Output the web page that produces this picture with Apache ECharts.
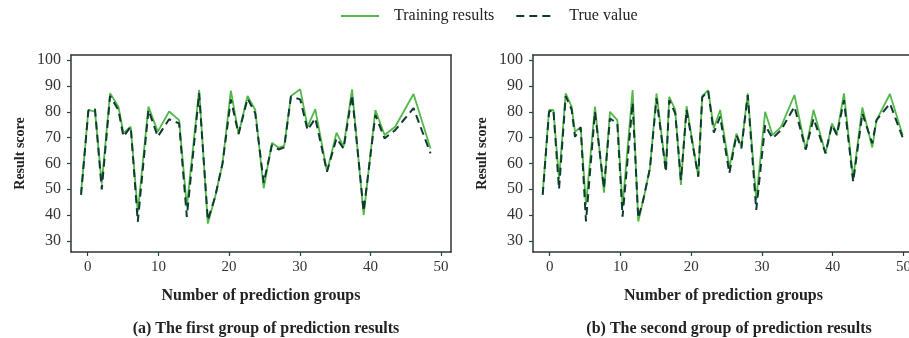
<!DOCTYPE html>
<html><head><meta charset="utf-8">
<script src="https://cdn.jsdelivr.net/npm/echarts@6/dist/echarts.min.js"></script>
<style>html,body{margin:0;padding:0;background:#fff}#c{width:909px;height:338px}</style>
</head><body><div id="c"></div>
<script>
const xTicks = [0, 10, 20, 30, 40, 50];
const yTicks = [30, 40, 50, 60, 70, 80, 90, 100];
const seriesNames = ['Training results', 'True value'];
const captions = ['(a) The first group of prediction results', '(b) The second group of prediction results'];

const leftX = [-0.95,0.09,1.03,1.98,3.16,4.34,5.05,6.08,7.08,8.59,9.91,11.51,12.93,14.02,15.76,16.99,18.03,19.07,20.25,21.34,22.61,23.7,24.9,26.06,27.0,27.8,28.75,30.07,31.1,32.2,33.85,35.2,36.2,37.4,39.04,40.7,42.0,43.5,46.1,48.5];
const leftTrain = [48.5,80.7,80.1,52.2,87.2,82.0,71.7,74.2,41.2,82.0,72.3,80.1,76.8,43.2,88.5,36.7,47.1,60.0,88.2,71.4,86.1,80.7,50.4,68.0,66.1,66.8,86.1,88.7,74.2,81.0,56.8,71.9,66.5,88.7,40.0,80.7,71.0,74.2,86.9,65.8];
const leftTrue = [47.8,80.5,81.0,49.9,86.1,80.7,70.4,74.2,37.4,80.7,70.4,77.1,75.5,39.3,87.2,38.0,47.1,60.0,84.8,71.4,85.2,79.4,52.5,67.1,65.4,66.2,85.9,84.8,72.9,77.5,56.8,69.7,65.8,86.5,41.5,78.8,69.7,72.9,81.4,63.9];

const rightX = [-0.99,-0.09,0.52,1.32,2.26,3.1,3.58,4.38,5.13,6.4,7.67,8.52,9.56,10.3,11.72,12.52,13.23,14.17,15.1,16.43,16.9,17.75,18.55,19.35,21.0,21.56,22.4,23.2,24.1,25.4,26.4,27.1,28.0,29.2,30.46,31.5,32.7,34.6,36.2,37.3,39.0,39.9,40.6,41.6,42.9,44.2,45.6,46.2,48.1,49.9];
const rightTrain = [48.4,80.7,80.7,54.0,87.1,82.0,72.3,74.0,44.0,82.0,48.7,80.0,76.8,43.3,88.4,37.5,45.9,58.1,87.1,57.4,85.8,80.7,51.7,82.2,54.9,86.1,88.4,73.6,80.7,58.5,71.6,66.5,87.1,45.9,80.0,71.0,74.2,86.5,65.4,80.7,63.9,75.5,71.6,87.1,54.0,81.7,66.2,76.8,86.9,70.9];
const rightTrue = [47.8,80.0,80.9,50.0,86.1,80.9,70.3,74.0,37.5,80.0,50.4,77.4,75.5,39.4,83.5,38.8,45.9,58.1,85.2,56.8,84.5,79.4,53.6,80.7,54.9,85.6,88.1,71.9,78.1,56.2,71.0,65.8,86.5,42.0,74.9,69.7,72.9,82.0,65.4,77.4,63.9,74.9,71.0,84.5,52.9,79.4,67.8,76.8,83.2,70.0];

const zip = (xs, ys) => xs.map((x, i) => [x, ys[i]]);
const FONT = '"Liberation Serif", "Times New Roman", serif';
const GREEN = '#52b847';
const DARK = '#0e3a30';
const TEXT = '#222';

function xAxis(idx, min, max) {
  return {
    type: 'value', gridIndex: idx, min: min, max: max,
    name: 'Number of prediction groups', nameLocation: 'middle', nameGap: 36,
    nameTextStyle: { fontFamily: FONT, fontWeight: 'bold', fontSize: 16, color: TEXT },
    axisLine: { show: true, onZero: false, lineStyle: { color: '#333', width: 1.5 } },
    axisTick: { show: true, length: 4, inside: false, customValues: xTicks, lineStyle: { color: '#1d4a45', width: 1.2 } },
    axisLabel: { show: true, margin: 8, customValues: xTicks, fontFamily: FONT, fontSize: 15, color: '#333' },
    splitLine: { show: false }
  };
}
function xAxisTop(idx, min, max) {
  return { type: 'value', gridIndex: idx, position: 'top', min: min, max: max,
    axisLine: { show: true, onZero: false, lineStyle: { color: '#333', width: 1.5 } },
    axisTick: { show: false }, axisLabel: { show: false }, splitLine: { show: false } };
}
function yAxis(idx) {
  return {
    type: 'value', gridIndex: idx, min: 25.7, max: 102,
    name: 'Result score', nameLocation: 'middle', nameGap: 44,
    nameTextStyle: { fontFamily: FONT, fontWeight: 'bold', fontSize: 14, color: TEXT },
    axisLine: { show: true, onZero: false, lineStyle: { color: '#333', width: 1.5 } },
    axisTick: { show: true, length: 4, customValues: yTicks, lineStyle: { color: '#1d4a45', width: 1.2 } },
    axisLabel: { show: true, margin: 10, customValues: yTicks, fontFamily: FONT, fontSize: 16, color: '#333' },
    splitLine: { show: false }
  };
}
function yAxisRight(idx) {
  return { type: 'value', gridIndex: idx, position: 'right', min: 25.7, max: 102,
    axisLine: { show: true, onZero: false, lineStyle: { color: '#333', width: 1.5 } },
    axisTick: { show: false }, axisLabel: { show: false }, splitLine: { show: false } };
}
function lines(xIdx, yIdx, xs, train, truth) {
  return [
    { name: seriesNames[0], type: 'line', xAxisIndex: xIdx, yAxisIndex: yIdx, data: zip(xs, train),
      symbol: 'none', lineStyle: { color: GREEN, width: 1.8 }, itemStyle: { color: GREEN }, z: 2 },
    { name: seriesNames[1], type: 'line', xAxisIndex: xIdx, yAxisIndex: yIdx, data: zip(xs, truth),
      symbol: 'none', lineStyle: { color: DARK, width: 2, type: [8, 5] }, itemStyle: { color: DARK }, z: 3 }
  ];
}

const chart = echarts.init(document.getElementById('c'), null, { renderer: 'canvas' });
chart.setOption({
  animation: false,
  backgroundColor: '#fff',
  legend: {
    top: 3, left: 335, itemWidth: 38, itemHeight: 14, itemGap: 21,
    itemStyle: { opacity: 0 },
    textStyle: { fontFamily: FONT, fontSize: 16, color: TEXT, padding: [0, 0, 0, 10] },
    data: seriesNames
  },
  title: [
    { text: captions[0], left: 261, top: 316, textAlign: 'center', textStyle: { fontFamily: FONT, fontWeight: 'bold', fontSize: 16, color: TEXT } },
    { text: captions[1], left: 724, top: 316, textAlign: 'center', textStyle: { fontFamily: FONT, fontWeight: 'bold', fontSize: 16, color: TEXT } }
  ],
  grid: [
    { left: 71, top: 55, width: 380, height: 197, outerBoundsMode: 'none' },
    { left: 533, top: 55, width: 381, height: 197, outerBoundsMode: 'none' }
  ],
  xAxis: [xAxis(0, -2.37, 51.4), xAxis(1, -2.36, 51.5), xAxisTop(0, -2.37, 51.4), xAxisTop(1, -2.36, 51.5)],
  yAxis: [yAxis(0), yAxis(1), yAxisRight(0), yAxisRight(1)],
  series: [].concat(lines(0, 0, leftX, leftTrain, leftTrue), lines(1, 1, rightX, rightTrain, rightTrue))
});
</script></body></html>
